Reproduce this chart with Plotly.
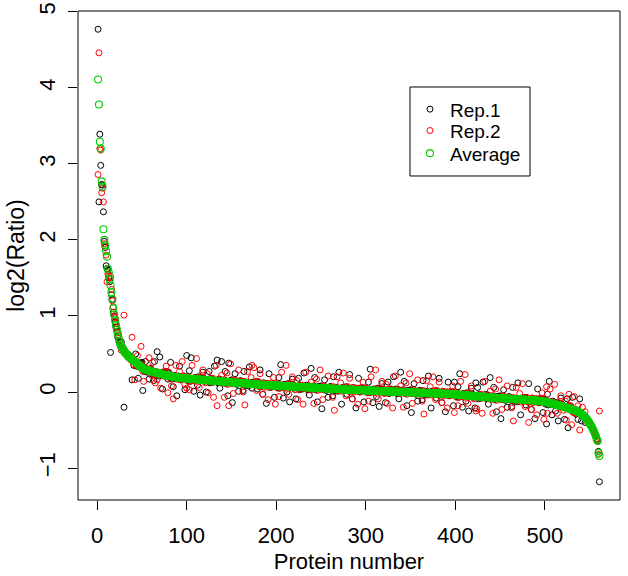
import plotly.graph_objects as go

# Average log2 ratio per protein (sorted, decreasing)
average = [
    4.11, 3.78, 3.29, 3.20, 2.77, 2.70, 2.14, 2.00, 1.93, 1.85, 1.78, 1.62, 1.57, 1.48, 1.40, 1.31, 1.22, 1.10, 1.02, 0.95,
    0.88, 0.82, 0.76, 0.71, 0.66, 0.62, 0.60, 0.58, 0.56, 0.54, 0.52, 0.51, 0.50, 0.48, 0.47, 0.46, 0.45, 0.44, 0.43, 0.42,
    0.41, 0.40, 0.39, 0.38, 0.37, 0.36, 0.35, 0.34, 0.33, 0.32, 0.31, 0.305, 0.300, 0.296, 0.292, 0.288, 0.284, 0.280, 0.276, 0.272,
    0.269, 0.266, 0.263, 0.260, 0.257, 0.254, 0.251, 0.248, 0.245, 0.242, 0.239, 0.236, 0.233, 0.230, 0.227, 0.224, 0.221, 0.218, 0.215, 0.212,
    0.209, 0.207, 0.205, 0.203, 0.201, 0.199, 0.197, 0.195, 0.193, 0.191, 0.189, 0.187, 0.185, 0.184, 0.183, 0.182, 0.181, 0.180, 0.179, 0.178,
    0.177, 0.176, 0.175, 0.174, 0.173, 0.172, 0.171, 0.170, 0.169, 0.168, 0.167, 0.166, 0.165, 0.164, 0.163, 0.162, 0.161, 0.160, 0.159, 0.158,
    0.157, 0.156, 0.155, 0.154, 0.153, 0.152, 0.151, 0.150, 0.149, 0.148, 0.147, 0.146, 0.145, 0.144, 0.143, 0.142, 0.141, 0.140, 0.139, 0.138,
    0.137, 0.136, 0.135, 0.134, 0.133, 0.132, 0.131, 0.130, 0.129, 0.128, 0.127, 0.126, 0.125, 0.124, 0.123, 0.122, 0.121, 0.120, 0.119, 0.118,
    0.117, 0.116, 0.115, 0.114, 0.113, 0.112, 0.111, 0.110, 0.109, 0.108, 0.107, 0.106, 0.105, 0.104, 0.103, 0.102, 0.101, 0.100, 0.099, 0.098,
    0.097, 0.096, 0.096, 0.095, 0.094, 0.094, 0.093, 0.092, 0.092, 0.091, 0.090, 0.090, 0.089, 0.088, 0.088, 0.087, 0.086, 0.086, 0.085, 0.084,
    0.084, 0.083, 0.082, 0.082, 0.081, 0.080, 0.080, 0.079, 0.078, 0.078, 0.077, 0.076, 0.076, 0.075, 0.074, 0.074, 0.073, 0.072, 0.072, 0.071,
    0.070, 0.070, 0.069, 0.068, 0.068, 0.067, 0.066, 0.066, 0.065, 0.064, 0.064, 0.063, 0.062, 0.062, 0.061, 0.060, 0.060, 0.059, 0.058, 0.058,
    0.057, 0.056, 0.056, 0.055, 0.054, 0.054, 0.053, 0.052, 0.052, 0.051, 0.050, 0.050, 0.049, 0.048, 0.048, 0.047, 0.046, 0.046, 0.045, 0.044,
    0.044, 0.043, 0.042, 0.042, 0.041, 0.040, 0.040, 0.039, 0.038, 0.038, 0.037, 0.036, 0.036, 0.035, 0.034, 0.034, 0.033, 0.032, 0.032, 0.031,
    0.031, 0.030, 0.030, 0.029, 0.029, 0.028, 0.028, 0.027, 0.027, 0.026, 0.026, 0.025, 0.025, 0.024, 0.024, 0.023, 0.023, 0.022, 0.022, 0.021,
    0.021, 0.020, 0.020, 0.019, 0.019, 0.018, 0.018, 0.017, 0.017, 0.016, 0.016, 0.015, 0.015, 0.014, 0.014, 0.013, 0.013, 0.012, 0.012, 0.011,
    0.011, 0.010, 0.010, 0.009, 0.009, 0.008, 0.008, 0.007, 0.007, 0.006, 0.006, 0.005, 0.005, 0.004, 0.004, 0.003, 0.003, 0.002, 0.002, 0.001,
    0.001, 0.000, 0.000, -0.001, -0.001, -0.002, -0.002, -0.003, -0.003, -0.004, -0.004, -0.005, -0.005, -0.006, -0.006, -0.007, -0.007, -0.008, -0.008, -0.009,
    -0.009, -0.010, -0.010, -0.011, -0.011, -0.012, -0.012, -0.013, -0.013, -0.014, -0.014, -0.015, -0.015, -0.016, -0.016, -0.017, -0.017, -0.018, -0.018, -0.019,
    -0.019, -0.020, -0.020, -0.021, -0.021, -0.022, -0.022, -0.023, -0.023, -0.024, -0.024, -0.025, -0.025, -0.026, -0.027, -0.028, -0.029, -0.030, -0.031, -0.032,
    -0.033, -0.034, -0.035, -0.036, -0.037, -0.038, -0.039, -0.040, -0.041, -0.042, -0.043, -0.044, -0.045, -0.046, -0.047, -0.048, -0.049, -0.050, -0.051, -0.052,
    -0.053, -0.054, -0.055, -0.056, -0.057, -0.058, -0.059, -0.060, -0.061, -0.062, -0.063, -0.064, -0.065, -0.066, -0.067, -0.068, -0.069, -0.070, -0.071, -0.072,
    -0.073, -0.074, -0.075, -0.075, -0.076, -0.077, -0.078, -0.079, -0.079, -0.080, -0.081, -0.082, -0.083, -0.083, -0.084, -0.085, -0.086, -0.087, -0.087, -0.088,
    -0.089, -0.090, -0.091, -0.091, -0.092, -0.093, -0.094, -0.095, -0.095, -0.096, -0.097, -0.098, -0.099, -0.099, -0.100, -0.101, -0.102, -0.103, -0.103, -0.104,
    -0.105, -0.106, -0.107, -0.107, -0.108, -0.109, -0.110, -0.111, -0.111, -0.112, -0.113, -0.114, -0.115, -0.116, -0.118, -0.120, -0.122, -0.124, -0.126, -0.128,
    -0.130, -0.133, -0.136, -0.139, -0.142, -0.145, -0.148, -0.151, -0.154, -0.157, -0.160, -0.163, -0.166, -0.169, -0.172, -0.175, -0.178, -0.181, -0.185, -0.189,
    -0.193, -0.197, -0.201, -0.205, -0.209, -0.213, -0.217, -0.221, -0.225, -0.229, -0.233, -0.237, -0.241, -0.245, -0.250, -0.255, -0.260, -0.266, -0.272, -0.279,
    -0.287, -0.296, -0.306, -0.318, -0.331, -0.345, -0.360, -0.376, -0.393, -0.411, -0.430, -0.450, -0.472, -0.495, -0.520, -0.548, -0.580, -0.620, -0.640, -0.800, -0.840,
]

# Replicate 1 log2 ratio (same protein order)
rep1 = [
    4.77, 2.50, 3.39, 2.98, 2.73, 2.72, 2.37, 1.98, 1.90, 1.66, 1.62, 1.60, 1.50, 1.45, 0.52, 1.28, 1.22, 1.05, 1.00, 0.92,
    0.85, 0.80, 0.72, 0.68, 0.66, 0.62, 0.66, 0.58, 0.55, -0.20, 0.54, 0.50, 0.51, 0.47, 0.49, 0.45, 0.46, 0.42, 0.16, 0.43,
    0.35, 0.39, 0.50, 0.34, 0.36, 0.18, 0.38, 0.35, 0.38, 0.39, 0.02, 0.29, 0.27, 0.40, 0.30, 0.26, 0.29, 0.17, 0.29, 0.31,
    0.27, 0.24, 0.15, 0.40, 0.22, 0.25, 0.53, 0.23, 0.21, 0.46, 0.24, 0.25, 0.04, 0.26, 0.23, 0.24, 0.22, 0.27, 0.17, 0.25,
    0.19, 0.39, 0.17, 0.20, 0.07, 0.22, 0.18, 0.19, -0.05, 0.19, 0.21, 0.34, 0.16, 0.20, 0.17, 0.19, 0.21, 0.03, 0.20, 0.48,
    0.15, 0.18, 0.28, 0.14, 0.45, 0.16, 0.17, 0.01, 0.19, 0.16, 0.18, 0.09, 0.20, 0.17, -0.04, 0.18, 0.15, 0.26, 0.18, 0.14,
    0.17, 0.00, 0.16, 0.15, 0.27, 0.12, 0.18, 0.13, 0.16, 0.13, 0.34, 0.15, 0.14, 0.42, 0.12, 0.17, 0.05, 0.16, 0.40, 0.13,
    0.12, 0.16, 0.27, 0.11, 0.13, -0.05, 0.38, 0.12, 0.15, 0.16, -0.14, 0.13, 0.11, 0.24, 0.14, 0.10, 0.13, 0.01, 0.13, 0.15,
    0.14, 0.11, 0.02, 0.27, 0.09, 0.12, 0.13, 0.10, 0.08, 0.33, 0.11, 0.12, 0.05, 0.13, 0.10, 0.11, 0.09, 0.14, 0.04, 0.12,
    0.09, 0.29, 0.07, 0.10, -0.03, 0.12, 0.08, 0.09, -0.15, 0.09, 0.11, 0.24, 0.06, 0.10, 0.07, 0.09, 0.11, -0.07, 0.10, 0.08,
    0.06, 0.09, 0.19, 0.05, 0.36, 0.07, 0.08, -0.08, 0.10, 0.07, 0.09, 0.00, 0.11, 0.08, -0.13, 0.09, 0.06, 0.17, 0.09, 0.05,
    0.08, -0.09, 0.07, 0.06, 0.18, 0.03, 0.09, 0.04, 0.07, 0.04, 0.25, 0.06, 0.05, 0.09, 0.03, 0.08, -0.04, 0.07, 0.31, 0.04,
    0.04, 0.08, 0.19, 0.03, 0.05, -0.13, 0.07, 0.04, 0.07, 0.08, -0.22, 0.05, 0.03, 0.16, 0.06, 0.02, 0.05, -0.07, 0.05, 0.07,
    0.07, 0.04, -0.05, 0.20, 0.02, 0.05, 0.06, 0.03, 0.01, 0.26, 0.04, 0.05, -0.16, 0.06, 0.03, 0.04, 0.02, 0.07, -0.03, 0.05,
    0.03, 0.23, 0.01, 0.04, -0.09, 0.06, 0.02, 0.03, -0.21, 0.03, 0.05, 0.18, 0.00, 0.04, 0.01, 0.03, 0.05, -0.13, 0.04, 0.02,
    0.00, 0.03, 0.13, -0.01, 0.30, 0.01, 0.02, -0.14, 0.04, 0.01, 0.03, -0.06, 0.05, 0.02, -0.19, 0.03, 0.00, 0.11, 0.03, -0.01,
    0.03, -0.14, 0.02, 0.01, 0.13, -0.02, 0.04, -0.01, 0.02, -0.01, 0.20, 0.01, 0.00, 0.04, -0.02, 0.03, -0.09, 0.02, 0.26, -0.01,
    -0.01, 0.03, 0.14, -0.02, 0.00, -0.18, 0.02, -0.01, 0.02, 0.03, -0.27, 0.00, -0.02, 0.11, 0.01, -0.03, 0.00, -0.12, 0.00, 0.02,
    0.02, -0.01, -0.10, 0.15, -0.03, 0.00, 0.01, -0.02, -0.04, 0.21, -0.01, 0.00, -0.21, 0.01, -0.02, -0.01, -0.03, 0.02, -0.08, 0.00,
    -0.02, 0.18, -0.04, -0.01, -0.14, 0.01, -0.03, -0.02, -0.26, -0.02, 0.00, 0.13, -0.05, -0.01, -0.04, -0.02, 0.00, -0.18, 0.13, -0.03,
    -0.06, -0.03, 0.07, -0.07, 0.24, -0.05, -0.04, -0.20, -0.02, -0.05, -0.03, -0.12, -0.01, -0.04, -0.25, -0.03, -0.06, 0.05, -0.03, -0.07,
    -0.04, -0.21, 0.12, -0.06, 0.06, -0.09, -0.03, -0.08, -0.05, -0.08, 0.13, -0.06, -0.07, -0.03, -0.09, -0.04, -0.16, -0.05, 0.19, -0.08,
    -0.09, -0.05, 0.06, -0.10, -0.08, -0.26, -0.06, -0.09, -0.06, -0.05, -0.35, -0.08, -0.10, 0.03, -0.07, -0.11, -0.08, -0.20, -0.08, -0.06,
    -0.07, -0.10, -0.19, 0.06, -0.12, -0.09, -0.08, -0.11, -0.13, 0.12, -0.10, -0.09, -0.30, -0.08, -0.11, -0.10, -0.12, -0.07, -0.17, -0.09,
    -0.11, 0.11, -0.13, -0.10, -0.23, -0.08, -0.12, -0.11, -0.35, -0.11, -0.09, 0.04, -0.14, -0.10, -0.13, -0.11, -0.09, -0.27, -0.10, -0.12,
    -0.16, -0.42, -0.03, -0.17, 0.14, -0.15, -0.14, -0.30, -0.12, -0.15, -0.16, -0.25, -0.14, -0.17, -0.38, -0.16, -0.19, -0.08, -0.16, -0.20,
    -0.19, -0.36, -0.20, -0.21, -0.09, -0.47, -0.18, -0.23, -0.20, -0.23, -0.07, -0.26, -0.27, -0.23, -0.29, -0.24, -0.36, -0.25, -0.09, -0.28,
    -0.38, -0.29, -0.31, -0.32, -0.40, -0.34, -0.37, -0.38, -0.39, -0.42, -0.44, -0.45, -0.48, -0.50, -0.52, -0.55, -0.58, -0.62, -0.64, -0.78, -1.18,
]

# Replicate 2 log2 ratio (same protein order)
rep2 = [
    2.86, 4.46, 3.20, 3.18, 2.62, 2.68, 2.50, 1.95, 1.92, 1.80, 1.45, 1.55, 1.55, 1.50, 1.52, 1.35, 1.20, 1.12, 1.00, 0.98,
    0.90, 0.85, 0.78, 0.75, 0.68, 0.60, 0.55, 0.60, 0.58, 1.01, 0.50, 0.53, 0.48, 0.50, 0.45, 0.47, 0.43, 0.46, 0.72, 0.40,
    0.36, 0.16, 0.38, 0.35, 0.48, 0.33, 0.37, 0.36, 0.60, 0.36, 0.27, 0.14, 0.32, 0.28, 0.31, 0.29, 0.27, 0.45, 0.28, 0.30,
    0.22, 0.39, 0.23, 0.24, 0.12, 0.27, 0.16, 0.26, 0.23, 0.26, 0.05, 0.24, 0.25, 0.21, 0.27, 0.22, 0.34, 0.23, -0.01, 0.26,
    0.21, 0.18, 0.08, 0.22, -0.09, 0.20, 0.19, 0.35, 0.17, 0.20, 0.18, 0.27, 0.16, 0.19, 0.40, 0.18, 0.21, 0.10, 0.18, 0.05,
    0.18, 0.14, 0.03, 0.19, 0.17, 0.35, 0.15, 0.18, 0.15, 0.14, 0.44, 0.17, 0.19, 0.06, 0.16, 0.20, 0.17, 0.29, 0.17, 0.15,
    0.12, 0.15, 0.24, -0.01, 0.17, 0.14, 0.13, 0.16, 0.18, -0.07, 0.15, 0.14, 0.35, -0.18, 0.16, 0.15, 0.17, 0.12, 0.22, 0.14,
    0.13, -0.07, 0.15, 0.12, 0.25, 0.10, -0.18, 0.13, 0.37, 0.13, 0.11, -0.02, 0.16, 0.12, 0.15, 0.13, 0.11, 0.29, 0.12, 0.14,
    0.13, 0.10, 0.00, 0.14, -0.17, 0.12, 0.11, 0.27, 0.09, 0.12, 0.10, 0.19, 0.35, 0.11, 0.32, 0.10, 0.13, 0.02, 0.10, 0.14,
    0.07, 0.24, 0.08, 0.09, -0.03, 0.12, 0.06, 0.11, 0.08, 0.11, -0.10, 0.09, 0.10, 0.06, 0.12, 0.07, 0.19, 0.08, -0.16, 0.11,
    0.09, 0.05, -0.06, 0.10, 0.08, 0.26, 0.06, 0.09, 0.06, 0.05, 0.35, 0.08, 0.10, -0.03, 0.07, 0.11, 0.08, 0.20, 0.08, 0.06,
    0.03, 0.06, 0.15, -0.10, 0.08, 0.05, 0.04, 0.07, 0.09, -0.16, 0.06, 0.05, 0.26, 0.04, 0.07, 0.06, 0.08, 0.03, 0.13, 0.05,
    0.05, -0.15, 0.07, 0.04, 0.17, 0.02, 0.06, 0.05, 0.29, 0.05, 0.03, -0.10, 0.08, 0.04, 0.07, 0.05, 0.03, 0.21, 0.04, 0.06,
    0.06, 0.03, -0.07, 0.07, -0.24, 0.05, 0.04, 0.20, 0.02, 0.05, 0.03, 0.12, 0.01, 0.04, 0.25, 0.03, 0.06, -0.05, 0.03, 0.07,
    0.01, 0.18, 0.02, 0.03, -0.09, 0.06, 0.00, 0.05, 0.02, 0.05, -0.16, 0.03, 0.04, 0.00, 0.06, 0.01, 0.13, 0.02, -0.22, 0.05,
    0.03, -0.01, -0.12, 0.04, 0.02, 0.20, 0.00, 0.03, 0.00, -0.01, 0.29, 0.02, 0.04, -0.09, 0.01, 0.05, 0.02, 0.14, 0.02, 0.00,
    -0.02, 0.01, 0.10, -0.15, 0.03, 0.00, -0.01, 0.02, 0.04, -0.21, 0.01, 0.00, 0.21, -0.01, 0.02, 0.01, 0.03, -0.02, 0.08, 0.00,
    0.00, -0.20, 0.02, -0.01, 0.12, -0.03, 0.01, 0.00, 0.24, 0.00, -0.02, -0.15, 0.03, -0.01, 0.02, 0.00, -0.02, 0.16, -0.01, 0.01,
    0.01, -0.02, -0.12, 0.02, -0.29, 0.00, -0.01, 0.15, -0.03, 0.00, -0.02, 0.07, -0.04, -0.01, 0.20, -0.02, 0.01, -0.10, -0.02, 0.02,
    -0.04, 0.13, -0.03, -0.02, -0.14, 0.01, -0.05, 0.00, -0.03, 0.00, -0.21, -0.02, -0.01, -0.05, 0.01, -0.04, 0.08, -0.03, -0.27, 0.00,
    -0.03, -0.07, -0.18, -0.02, -0.04, 0.14, -0.06, -0.03, -0.06, -0.07, 0.23, -0.04, -0.02, -0.15, -0.05, -0.01, -0.04, 0.08, -0.04, -0.06,
    -0.09, -0.06, -0.25, -0.22, -0.04, -0.07, -0.08, -0.05, -0.03, -0.28, -0.06, -0.07, 0.14, -0.08, -0.05, -0.06, -0.04, -0.09, 0.01, -0.07,
    -0.08, -0.28, -0.06, -0.09, 0.04, -0.11, -0.07, -0.08, 0.16, -0.08, -0.10, -0.23, -0.05, -0.09, -0.06, -0.08, -0.10, 0.08, -0.09, -0.07,
    -0.08, -0.11, -0.21, -0.07, -0.38, -0.09, -0.10, 0.06, -0.12, -0.09, -0.11, -0.02, -0.13, -0.10, 0.11, -0.11, -0.08, -0.19, -0.11, -0.07,
    -0.13, -0.40, -0.12, -0.11, -0.23, -0.08, -0.14, -0.09, -0.12, -0.09, -0.30, -0.11, -0.10, -0.14, -0.08, -0.13, -0.01, -0.12, -0.36, -0.09,
    -0.13, 0.07, -0.28, -0.12, -0.14, 0.04, -0.16, -0.13, -0.16, -0.17, 0.10, -0.17, -0.15, -0.28, -0.18, -0.14, -0.17, -0.05, -0.17, -0.19,
    -0.24, -0.21, -0.12, -0.37, -0.19, -0.22, -0.03, -0.20, -0.18, -0.43, -0.26, -0.27, -0.06, -0.28, -0.25, -0.26, -0.18, -0.29, -0.50, -0.27,
    -0.30, -0.20, -0.30, -0.33, -0.26, -0.35, -0.36, -0.40, -0.38, -0.41, -0.43, -0.46, -0.47, -0.50, -0.52, -0.54, -0.58, -0.61, -0.65, -0.82, -0.25,
]

assert len(average) == len(rep1) == len(rep2) == 561, (len(average), len(rep1), len(rep2))

protein_number = list(range(1, len(average) + 1))
x_ticks = [0, 100, 200, 300, 400, 500]
y_ticks = [-1, 0, 1, 2, 3, 4, 5]

FONT = "Liberation Sans, Arial, sans-serif"

fig = go.Figure()
series = [
    ("Rep.1", rep1, "#000000", "legend", 6, 1.0),
    ("Rep.2", rep2, "#FF0000", "legend2", 6, 1.0),
    ("Average", average, "#00CD00", "legend3", 7, 1.1),
]
for name, vals, col, leg, msize, lw in series:
    fig.add_trace(go.Scatter(
        x=protein_number, y=vals, mode="markers", name=name, legend=leg,
        marker=dict(symbol="circle-open", size=msize, color=col, line=dict(width=lw, color=col)),
    ))

leg_common = dict(
    x=0.6125, xanchor="left", yanchor="top",
    bgcolor="rgba(0,0,0,0)", borderwidth=0,
    font=dict(family=FONT, size=19, color="black"),
    itemwidth=30,
)

fig.update_layout(
    width=628, height=576, autosize=False,
    margin=dict(l=78, r=8, t=11, b=76),
    paper_bgcolor="white", plot_bgcolor="white",
    font=dict(family=FONT, size=22, color="black"),
    showlegend=True,
    legend=dict(y=0.8378, **leg_common),
    legend2=dict(y=0.7941, **leg_common),
    legend3=dict(y=0.7479, **leg_common),
    shapes=[
        dict(type="rect", xref="paper", yref="paper", x0=0, y0=0, x1=1, y1=1,
             line=dict(color="black", width=1), fillcolor="rgba(0,0,0,0)"),
        dict(type="rect", xref="paper", yref="paper", x0=0.6125, y0=0.6626, x1=0.834, y1=0.8446,
             line=dict(color="black", width=1), fillcolor="rgba(0,0,0,0)"),
    ],
)
fig.update_xaxes(
    range=[-21.4, 584], tickvals=x_ticks, ticks="outside", ticklen=9, tickwidth=1, tickcolor="black",
    showgrid=False, zeroline=False, showline=False, automargin=False,
    ticklabelstandoff=7,
    tickfont=dict(family=FONT, size=22),
    title=dict(text="Protein number", font=dict(family=FONT, size=22), standoff=6),
)
fig.update_yaxes(
    range=[-1.42, 5.01], tickvals=y_ticks, ticks="outside", ticklen=9, tickwidth=1, tickcolor="black",
    showgrid=False, zeroline=False, showline=False, tickangle=-90, automargin=False,
    ticklabelstandoff=4,
    tickfont=dict(family=FONT, size=22),
    title=dict(text="log2(Ratio)", font=dict(family=FONT, size=23), standoff=4),
)

fig.write_html(
    "out.html",
    config={"displayModeBar": False},
    post_script="document.body.style.margin='0px';",
)
